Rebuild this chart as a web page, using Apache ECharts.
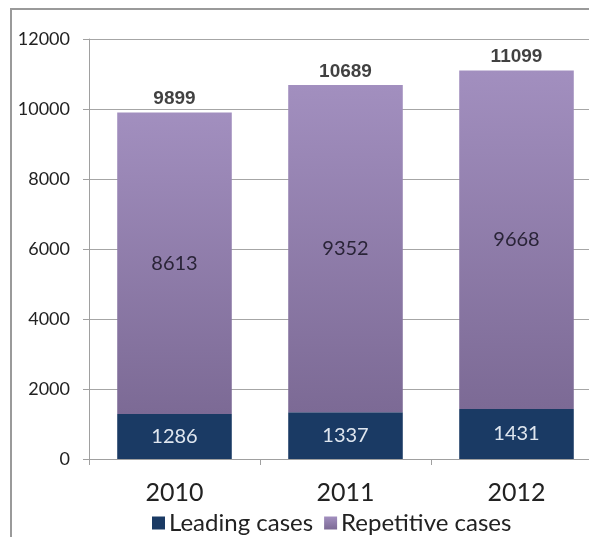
<!DOCTYPE html>
<html><head><meta charset="utf-8">
<script src="https://cdn.jsdelivr.net/npm/echarts@6/dist/echarts.min.js"></script>
<style>html,body{margin:0;padding:0;background:#fff}#c{width:589px;height:537px}</style>
</head><body><div id="c"></div>
<script>
const categories = ['2010', '2011', '2012'];
const leadingCases = [1286, 1337, 1431];
const repetitiveCases = [8613, 9352, 9668];
const totals = [9899, 10689, 11099];
const yTicks = [0, 2000, 4000, 6000, 8000, 10000, 12000];

const chart = echarts.init(document.getElementById('c'));
const font = 'Lato, "Open Sans", sans-serif';
chart.setOption({
  animation: false,
  backgroundColor: '#fff',
  graphic: [
    { type: 'line', z: 100, shape: { x1: 10, y1: 9, x2: 700, y2: 9 }, style: { stroke: '#9a9a9a', lineWidth: 2 } },
    { type: 'line', z: 100, shape: { x1: 11, y1: 8, x2: 11, y2: 700 }, style: { stroke: '#9a9a9a', lineWidth: 2 } }
  ],
  grid: { left: 89, width: 513, top: 39, bottom: 78, containLabel: false, outerBoundsMode: 'none' },
  legend: {
    top: 506, left: 147, icon: 'rect', itemWidth: 13, itemHeight: 13, itemGap: 11,
    data: ['Leading cases', 'Repetitive cases'],
    textStyle: { fontFamily: font, fontSize: 24, color: '#222', padding: [0, 0, 0, -1] }
  },
  xAxis: {
    type: 'category', data: categories,
    axisLine: { lineStyle: { color: '#a0a0a0', width: 1 } },
    axisTick: { show: true, length: 6, lineStyle: { color: '#a0a0a0' } },
    axisLabel: { fontFamily: font, fontSize: 25, color: '#222', margin: 21 }
  },
  yAxis: {
    type: 'value', min: yTicks[0], max: yTicks[yTicks.length - 1], interval: 2000,
    axisLine: { show: true, lineStyle: { color: '#a0a0a0' } },
    axisTick: { show: true, length: 6, lineStyle: { color: '#a0a0a0' } },
    splitLine: { lineStyle: { color: '#a6a6a6', width: 1 } },
    axisLabel: { fontFamily: font, fontSize: 18, color: '#222', margin: 19, formatter: v => String(v) }
  },
  series: [
    {
      name: 'Leading cases', type: 'bar', stack: 'a', barWidth: '67%',
      data: leadingCases,
      itemStyle: { color: '#1a3a64' },
      label: { show: true, position: 'inside', fontFamily: font, fontSize: 20, color: '#dfe6ef' }
    },
    {
      name: 'Repetitive cases', type: 'bar', stack: 'a', barWidth: '67%',
      data: repetitiveCases,
      itemStyle: {
        color: new echarts.graphic.LinearGradient(0, 0, 0, 1, [
          { offset: 0, color: '#a28fbf' },
          { offset: 1, color: '#7c6a95' }
        ])
      },
      label: { show: true, position: 'inside', fontFamily: font, fontSize: 20, color: '#2a2438' }
    },
    {
      name: 'Total', type: 'scatter', data: totals, symbolSize: 0,
      label: {
        show: true, position: 'top', distance: 4,
        fontFamily: '"Liberation Sans", Arial, sans-serif', fontWeight: 'bold', fontSize: 19, color: '#111'
      }
    }
  ]
});
</script></body></html>
